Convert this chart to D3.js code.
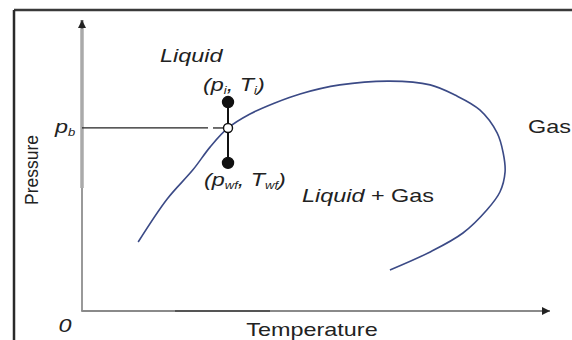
<!DOCTYPE html>
<html>
<head>
<meta charset="utf-8">
<script src="https://cdn.jsdelivr.net/npm/d3@7"></script>
<style>
  html, body { margin: 0; padding: 0; background: #fff; }
  svg { display: block; }
  text { font-family: "Liberation Sans", Arial, sans-serif; fill: #222; }
</style>
</head>
<body>
<div id="chart"></div>
<script>
// Phase envelope (bubble-point / dew-point curve) in relative temperature / pressure units
const envelopeT = [12.0, 18.2, 23.7, 27.4, 31.2, 35.9, 41.2, 46.6, 55.1, 65.8, 74.4, 79.7, 85.0, 88.7, 90.0, 90.4, 89.3, 86.5, 81.4, 74.4, 65.8];
const envelopeP = [23.7, 38.5, 48.5, 56.4, 62.9, 67.7, 71.5, 74.6, 77.7, 79.0, 77.7, 74.2, 69.1, 61.2, 54.3, 47.8, 40.9, 34.7, 26.8, 20.3, 14.1];

// Reservoir states: initial, bubble point, flowing bottom-hole
const stateNames = ["initial", "bubble", "wellflow"];
const stateT = [31.2, 31.2, 31.2];
const stateP = [71.8, 62.9, 50.9];

// Axis labels
const xLabel = "Temperature";
const yLabel = "Pressure";
const originLabel = "0";

const W = 572, H = 340;
const svg = d3.select("#chart").append("svg").attr("width", W).attr("height", H);

const x = d3.scaleLinear().domain([0, 100]).range([82, 550]);
const y = d3.scaleLinear().domain([0, 100]).range([311, 20]);

// Frame (top and left edges)
svg.append("line").attr("x1", 14).attr("x2", W).attr("y1", 10).attr("y2", 10)
  .attr("stroke", "#3a3a3a").attr("stroke-width", 2.5);
svg.append("line").attr("x1", 14).attr("x2", 14).attr("y1", 10).attr("y2", H)
  .attr("stroke", "#2a2a2a").attr("stroke-width", 2.5);

// Arrow marker
const defs = svg.append("defs");
defs.append("marker").attr("id", "arrow").attr("viewBox", "0 0 10 10")
  .attr("refX", 10).attr("refY", 5).attr("markerWidth", 10).attr("markerHeight", 8)
  .attr("markerUnits", "userSpaceOnUse").attr("orient", "auto")
  .append("path").attr("d", "M0,0 L10,5 L0,10 Z").attr("fill", "#222");

// Y axis: thin lower part, wide grey upper part, arrow at top
const yPb = y(stateP[1]);
svg.append("line").attr("x1", x(0)).attr("x2", x(0)).attr("y1", y(0)).attr("y2", 188)
  .attr("stroke", "#777").attr("stroke-width", 1.5);
svg.append("line").attr("x1", x(0)).attr("x2", x(0)).attr("y1", 188).attr("y2", y(100))
  .attr("stroke", "#aaa").attr("stroke-width", 3.5);
svg.append("line").attr("x1", x(0)).attr("x2", x(0)).attr("y1", y(97)).attr("y2", y(100))
  .attr("stroke", "#555").attr("stroke-width", 1.5).attr("marker-end", "url(#arrow)");

// X axis with arrow at right
svg.append("line").attr("x1", x(0) - 0.75).attr("x2", x(100)).attr("y1", y(0)).attr("y2", y(0))
  .attr("stroke", "#8a8a8a").attr("stroke-width", 2).attr("marker-end", "url(#arrow)");
svg.append("line").attr("x1", 175).attr("x2", 270).attr("y1", y(0)).attr("y2", y(0))
  .attr("stroke", "#555").attr("stroke-width", 2);

// Bubble-point pressure guide line
svg.append("line").attr("x1", x(0)).attr("x2", 208).attr("y1", yPb).attr("y2", yPb)
  .attr("stroke", "#222").attr("stroke-width", 1.3);
svg.append("line").attr("x1", 213).attr("x2", x(stateT[1])).attr("y1", yPb).attr("y2", yPb)
  .attr("stroke", "#222").attr("stroke-width", 1.3);

// Phase envelope
const pts = envelopeT.map((t, i) => [t, envelopeP[i]]);
svg.append("path").datum(pts)
  .attr("d", d3.line().x(d => x(d[0])).y(d => y(d[1])).curve(d3.curveCatmullRom.alpha(0.5)))
  .attr("fill", "none").attr("stroke", "#3b4a86").attr("stroke-width", 1.6);

// Pressure drawdown path from initial state to flowing state
svg.append("line")
  .attr("x1", x(stateT[0])).attr("x2", x(stateT[2]))
  .attr("y1", y(stateP[0])).attr("y2", y(stateP[2]))
  .attr("stroke", "#111").attr("stroke-width", 2);

// State markers
svg.selectAll("circle.state").data(stateNames).join("circle")
  .attr("class", "state")
  .attr("cx", (d, i) => x(stateT[i]))
  .attr("cy", (d, i) => y(stateP[i]))
  .attr("r", d => d === "bubble" ? 4.5 : 5.5)
  .attr("fill", d => d === "bubble" ? "#fff" : "#111")
  .attr("stroke", "#111").attr("stroke-width", 1.4);

// Horizontal text is drawn slightly widened
const SX = 1.3;
function label(px, py, anchor) {
  return svg.append("g").attr("transform", `translate(${px},${py}) scale(${SX},1)`)
    .append("text").attr("text-anchor", anchor || "start").attr("font-size", 18);
}
function withSub(t, base, sub, italic) {
  t.append("tspan").text(base);
  t.append("tspan").attr("font-size", 11).attr("dy", 3).text(sub);
  t.append("tspan").attr("dy", -3).text("");
}

// Region labels
label(160, 62).attr("font-style", "italic").text("Liquid");
const lg = label(302, 202);
lg.append("tspan").attr("font-style", "italic").text("Liquid");
lg.append("tspan").text(" + Gas");
label(528, 133).text("Gas");

// State labels
const li = label(203, 91).attr("font-style", "italic");
li.append("tspan").text("(p");
li.append("tspan").attr("font-size", 10).attr("dy", 3).text("i");
li.append("tspan").attr("dy", -3).text(", T");
li.append("tspan").attr("font-size", 10).attr("dy", 3).text("i");
li.append("tspan").attr("dy", -3).text(")");

const lw = label(204, 186).attr("font-style", "italic");
lw.append("tspan").text("(p");
lw.append("tspan").attr("font-size", 10).attr("dy", 3).text("wf");
lw.append("tspan").attr("dy", -3).text(", T");
lw.append("tspan").attr("font-size", 10).attr("dy", 3).text("wf");
lw.append("tspan").attr("dy", -3).text(")");

// Axis tick labels
const pb = label(55, yPb + 5).attr("font-style", "italic");
pb.append("tspan").text("p");
pb.append("tspan").attr("font-size", 10).attr("dy", 3).text("b");

label(65, 332, "middle").attr("font-style", "italic").text(originLabel);

// Axis titles
label(312, 336, "middle").text(xLabel);
svg.append("text").attr("transform", "translate(38,170) rotate(-90)")
  .attr("text-anchor", "middle").attr("font-size", 17.5).text(yLabel);
</script>
</body>
</html>
